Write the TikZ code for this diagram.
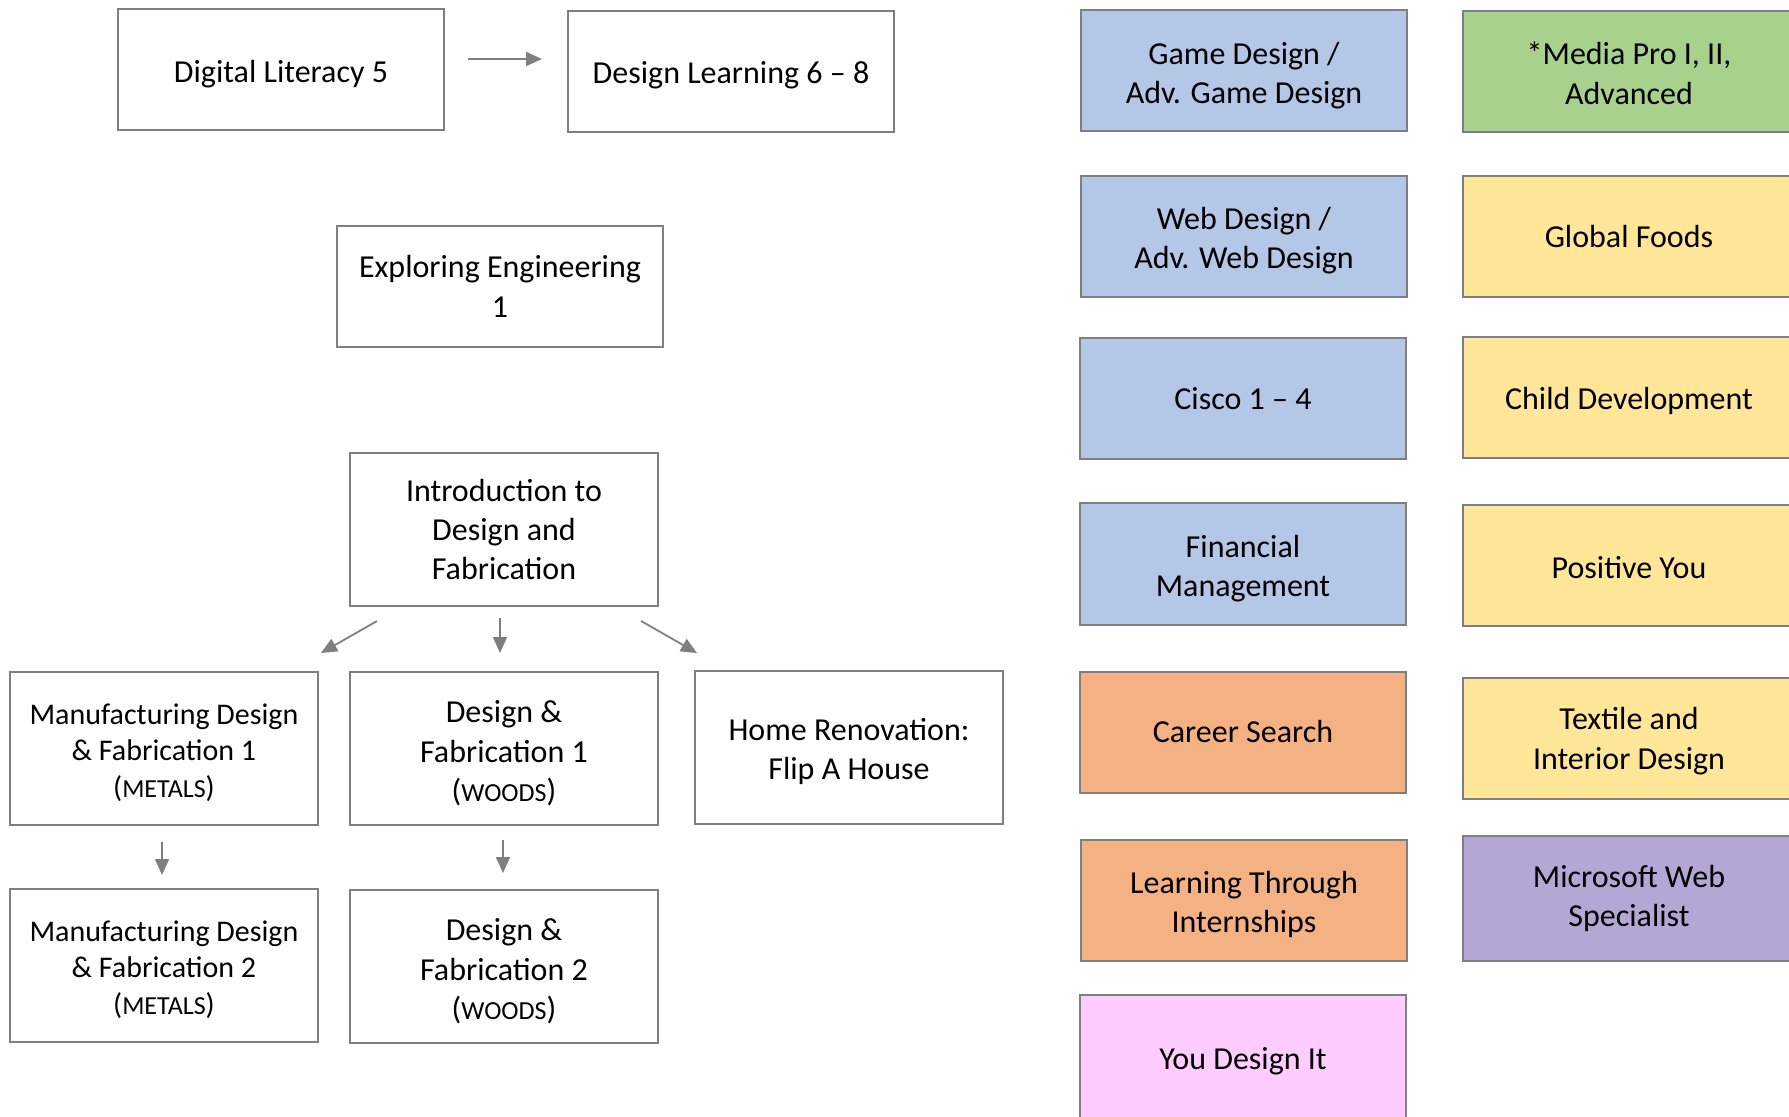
\documentclass[tikz,border=0pt]{standalone}
\usepackage{fontspec}
\setmainfont{Carlito}
\usepackage{tikz}
\usetikzlibrary{positioning, arrows.meta, calc}

\definecolor{boxline}{HTML}{7F7F7F}
\definecolor{techblue}{HTML}{B4C7E7}
\definecolor{mediagreen}{HTML}{A9D18E}
\definecolor{famyellow}{HTML}{FFE699}
\definecolor{careerorange}{HTML}{F4B183}
\definecolor{webpurple}{HTML}{B4A7D6}
\definecolor{designpink}{HTML}{FFCCFF}

\newcommand{\material}[1]{{\fontsize{13}{15}\selectfont #1}}
\newcommand{\lift}[1]{\rule{0pt}{#1}}

\tikzset{
  course/.style={draw=boxline, line width=1pt, rectangle, align=center,
    minimum width=163pt, minimum height=60.5pt, inner sep=2pt,
    font=\fontsize{16}{19.7}\selectfont},
  tallcourse/.style={course, minimum width=154pt, minimum height=76.5pt},
  flow/.style={draw=boxline, line width=0.9pt, -{Triangle[length=8pt, width=7pt]}}
}

\begin{document}
\begin{tikzpicture}[x=0.5pt, y=-0.5pt]
    \useasboundingbox (0,0) rectangle (1789,1117);

    % middle school path
    \node[course] (lit) at (281, 69.5) {\lift{15.8pt}Digital Literacy 5};
    \node[course] (learn) at (731, 71.5) {\lift{14.6pt}Design Learning 6 – 8};
    \draw[flow] ($(lit.east)+(23,-10.5)$) -- ($(learn.west)+(-25,-12.5)$);

    % engineering
    \node[course] (eng) at (500, 286.5) {Exploring Engineering\\1};

    % design and fabrication tree
    \node[tallcourse] (intro) at (504, 529.5) {Introduction to\\Design and\\Fabrication};
    \node[tallcourse, font=\fontsize{15}{18.3}\selectfont] (mfg1) at (164, 748.5)
      {\lift{14.2pt}Manufacturing Design\\\& Fabrication 1\\(\material{METALS})};
    \node[tallcourse] (wood1) at (504, 748.5) {\lift{16pt}Design \&\\Fabrication 1\\(\material{WOODS})};
    \node[tallcourse] (home) at (849, 747.5) {\lift{15pt}Home Renovation:\\Flip A House};
    \node[tallcourse, font=\fontsize{15}{18.3}\selectfont] (mfg2) at (164, 965.5)
      {\lift{14.2pt}Manufacturing Design\\\& Fabrication 2\\(\material{METALS})};
    \node[tallcourse] (wood2) at (504, 966.5) {\lift{16pt}Design \&\\Fabrication 2\\(\material{WOODS})};

    % arrows out of the intro course
    \draw[flow] ($(intro.south west)+(28,14)$) -- ($(mfg1.north east)+(2,-18)$);
    \draw[flow] ($(intro.south)+(-4,11)$) -- ($(wood1.north)+(-4,-18)$);
    \draw[flow] ($(intro.south east)+(-18,14)$) -- ($(home.north west)+(3,-17)$);

    % second level arrows
    \draw[flow] ($(mfg1.south)+(-2,16)$) -- ($(mfg2.north)+(-2,-13)$);
    \draw[flow] ($(wood1.south)+(-1,14)$) -- ($(wood2.north)+(-1,-16)$);

    % first column of electives
    \node[course, fill=techblue] (game) at (1244, 70.5) {\lift{16pt}Game Design /\\Adv. Game Design};
    \node[course, fill=techblue] (web) at (1244, 236.5) {\lift{15pt}Web Design /\\Adv. Web Design};
    \node[course, fill=techblue] (cisco) at (1243, 398.5) {Cisco 1 – 4};
    \node[course, fill=techblue] (fin) at (1243, 564) {\lift{15.5pt}Financial\\Management};
    \node[course, fill=careerorange] (career) at (1243, 732) {Career Search};
    \node[course, fill=careerorange] (intern) at (1244, 900.5) {\lift{15pt}Learning Through\\Internships};
    \node[course, fill=designpink, minimum height=63.5pt] (you) at (1243, 1058.5) {\lift{13.5pt}You Design It};

    % second column of electives
    \node[course, fill=mediagreen, minimum width=166pt] (media) at (1629, 71.5) {\lift{13.2pt}*Media Pro I, II,\\Advanced};
    \node[course, fill=famyellow, minimum width=166pt] (foods) at (1629, 236.5) {Global Foods};
    \node[course, fill=famyellow, minimum width=166pt] (child) at (1629, 397.5) {\lift{14.6pt}Child Development};
    \node[course, fill=famyellow, minimum width=166pt] (positive) at (1629, 565.5) {\lift{13.5pt}Positive You};
    \node[course, fill=famyellow, minimum width=166pt] (textile) at (1629, 738) {\lift{14.4pt}Textile and\\Interior Design};
    \node[course, fill=webpurple, minimum width=166pt, minimum height=62.5pt] (msweb) at (1629, 898.5) {Microsoft Web\\Specialist};

\end{tikzpicture}
\end{document}
